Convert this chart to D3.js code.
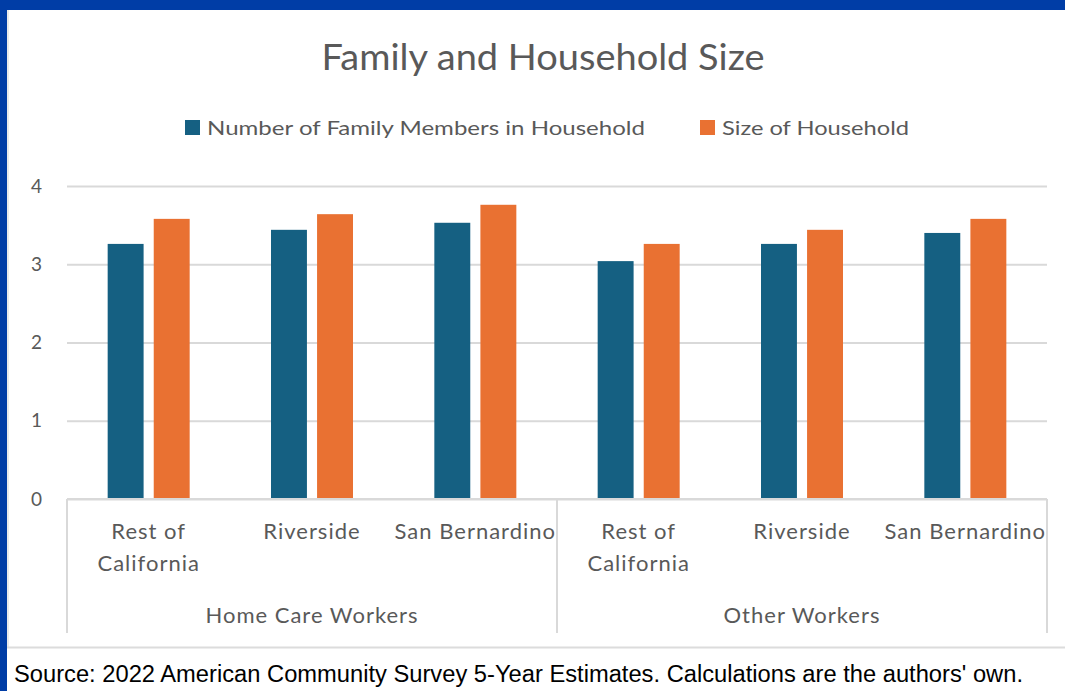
<!DOCTYPE html>
<html>
<head>
<meta charset="utf-8">
<script src="https://cdn.jsdelivr.net/npm/d3@7"></script>
<style>
  body { margin: 0; background: #fff; }
  svg { display: block; }
  text { font-family: Lato, "Open Sans", sans-serif; fill: #595959; }
</style>
</head>
<body>
<svg width="1065" height="691"></svg>
<script>
// chart data
const categories = ['Rest of California', 'Riverside', 'San Bernardino'];
const groups = ['Home Care Workers', 'Other Workers'];
const seriesNames = ['Number of Family Members in Household', 'Size of Household'];
const familyMembers = [3.26, 3.44, 3.53, 3.04, 3.26, 3.40];
const householdSize = [3.58, 3.64, 3.76, 3.26, 3.44, 3.58];
const yTicks = [0, 1, 2, 3, 4];

const colors = ['#156082', '#E97132'];

const svg = d3.select('svg');
const width = +svg.attr('width');
const height = +svg.attr('height');

// frame: blue border top/left, gray rule above the source line
svg.append('rect').attr('x', 0).attr('y', 0).attr('width', width).attr('height', 10).attr('fill', '#003DA6');
svg.append('rect').attr('x', 0).attr('y', 0).attr('width', 7).attr('height', height).attr('fill', '#003DA6');
svg.append('line').attr('x1', 8).attr('x2', 8).attr('y1', 10).attr('y2', 647)
  .attr('stroke', '#e3e3e3').attr('stroke-width', 1.5);
svg.append('line').attr('x1', 7).attr('x2', width).attr('y1', 647.5).attr('y2', 647.5)
  .attr('stroke', '#dcdcdc').attr('stroke-width', 2);

const margin = { left: 67, right: 18, top: 186, bottom: 192 };
const innerWidth = width - margin.left - margin.right;
const innerHeight = height - margin.top - margin.bottom;

// one entry per bar group
const data = [];
groups.forEach((g, gi) => {
  categories.forEach((c, ci) => {
    const i = gi * categories.length + ci;
    data.push({ key: g + '|' + c, group: g, category: c, values: [familyMembers[i], householdSize[i]] });
  });
});

const x0 = d3.scaleBand().domain(data.map((d) => d.key)).range([0, innerWidth]);
const x1 = d3.scaleBand()
  .domain(seriesNames)
  .range([(x0.bandwidth() - 82) / 2, (x0.bandwidth() + 82) / 2])
  .paddingInner(0.22);
const yScale = d3.scaleLinear().domain([0, 4]).range([innerHeight, 0]);

const g = svg.append('g').attr('transform', `translate(${margin.left}, ${margin.top})`);

// gridlines + y labels
const yAxis = d3.axisLeft(yScale).tickValues(yTicks).tickSize(-innerWidth).tickPadding(25).tickFormat(d3.format('d'));
const yG = g.append('g').call(yAxis);
yG.select('.domain').remove();
yG.selectAll('line').attr('stroke', '#d9d9d9').attr('stroke-width', 2);
yG.selectAll('text').attr('font-size', 19).style('fill', '#595959').style('font-family', 'Lato, sans-serif');

// bars
const bars = g.selectAll('.grp').data(data).enter().append('g')
  .attr('transform', (d) => `translate(${x0(d.key)}, 0)`);
bars.selectAll('rect')
  .data((d) => d.values.map((v, i) => ({ series: seriesNames[i], value: v, i })))
  .enter().append('rect')
  .attr('x', (d) => x1(d.series))
  .attr('y', (d) => yScale(d.value))
  .attr('width', x1.bandwidth())
  .attr('height', (d) => innerHeight - yScale(d.value))
  .attr('fill', (d) => colors[d.i]);

// category axis
g.append('line').attr('x1', 0).attr('x2', innerWidth).attr('y1', innerHeight).attr('y2', innerHeight)
  .attr('stroke', '#d9d9d9').attr('stroke-width', 2);
const groupEdges = [0, categories.length, categories.length * 2];
g.selectAll('.sep').data(groupEdges).enter().append('line')
  .attr('x1', (d) => d * x0.step()).attr('x2', (d) => d * x0.step())
  .attr('y1', innerHeight).attr('y2', innerHeight + 134)
  .attr('stroke', '#d9d9d9').attr('stroke-width', 2);

const catText = g.selectAll('.cat').data(data).enter().append('text')
  .attr('x', (d) => x0(d.key) + x0.bandwidth() / 2)
  .attr('y', innerHeight + 40)
  .attr('text-anchor', 'middle')
  .attr('font-size', 22)
  .attr('letter-spacing', 1);
catText.each(function (d) {
  const lines = d.category === 'Rest of California' ? ['Rest of', 'California'] : [d.category];
  d3.select(this).selectAll('tspan').data(lines).enter().append('tspan')
    .attr('x', x0(d.key) + x0.bandwidth() / 2)
    .attr('dy', (l, i) => (i === 0 ? 0 : 32))
    .text((l) => l);
});

g.selectAll('.grpLabel').data(groups).enter().append('text')
  .attr('x', (d, i) => (i * categories.length + categories.length / 2) * x0.step())
  .attr('y', innerHeight + 124)
  .attr('text-anchor', 'middle')
  .attr('font-size', 22)
  .attr('letter-spacing', 1)
  .text((d) => d);

// title
svg.append('text').attr('x', 543).attr('y', 70).attr('text-anchor', 'middle')
  .attr('font-size', 36).attr('textLength', 443).attr('lengthAdjust', 'spacingAndGlyphs')
  .text('Family and Household Size');

// legend
const legendX = [185, 700];
const legendW = [438, 187];
const legend = svg.selectAll('.leg').data(seriesNames).enter().append('g')
  .attr('transform', (d, i) => `translate(${legendX[i]}, 120)`);
legend.append('rect').attr('width', 15).attr('height', 15).attr('fill', (d, i) => colors[i]);
legend.append('text').attr('x', 22).attr('y', 15).attr('font-size', 20)
  .attr('textLength', (d, i) => legendW[i]).attr('lengthAdjust', 'spacingAndGlyphs')
  .text((d) => d);

// source note
svg.append('text').attr('x', 14).attr('y', 682)
  .style('font-family', 'Arial, "Liberation Sans", sans-serif').style('fill', '#000')
  .attr('font-size', 23).attr('textLength', 1009).attr('lengthAdjust', 'spacingAndGlyphs')
  .text("Source: 2022 American Community Survey 5-Year Estimates. Calculations are the authors' own.");
</script>
</body>
</html>
